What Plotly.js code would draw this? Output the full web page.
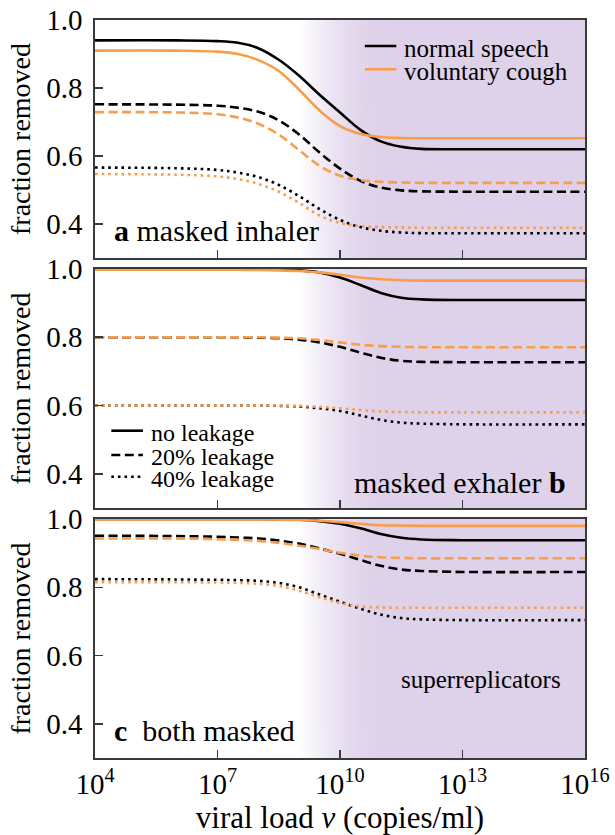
<!DOCTYPE html>
<html>
<head>
<meta charset="utf-8">
<script src="https://cdn.plot.ly/plotly-3.0.1.min.js"></script>
<style>html,body{margin:0;padding:0;background:#fff;}#chart{width:615px;height:835px;}</style>
</head>
<body>
<div id="chart"></div>
<script>
// viral load sample points (copies/ml)
const viralLoad = [1e4, 1e6, 1e7, 3.162e7, 1e8, 3.162e8, 1e9, 3.162e9, 1e10, 3.162e10, 1e11, 3.162e11, 1e12, 1e13, 1e16];

// panel a: masked inhaler
const a_speech_0  = [0.940,0.940,0.938,0.933,0.917,0.883,0.836,0.780,0.728,0.677,0.643,0.627,0.621,0.620,0.620];
const a_speech_20 = [0.752,0.751,0.748,0.742,0.730,0.705,0.663,0.610,0.563,0.527,0.507,0.499,0.496,0.495,0.495];
const a_speech_40 = [0.566,0.564,0.559,0.551,0.538,0.515,0.482,0.444,0.412,0.391,0.380,0.375,0.373,0.373,0.373];
const a_cough_0   = [0.910,0.910,0.907,0.900,0.882,0.850,0.795,0.734,0.688,0.665,0.656,0.653,0.652,0.652,0.652];
const a_cough_20  = [0.729,0.728,0.723,0.713,0.695,0.663,0.617,0.571,0.542,0.529,0.524,0.522,0.521,0.521,0.521];
const a_cough_40  = [0.547,0.545,0.540,0.532,0.518,0.495,0.462,0.425,0.403,0.394,0.391,0.390,0.389,0.389,0.389];

// panel b: masked exhaler
const b_speech_0  = [1.000,1.000,1.000,1.000,1.000,0.999,0.996,0.990,0.975,0.953,0.930,0.916,0.911,0.909,0.909];
const b_speech_20 = [0.800,0.800,0.800,0.800,0.799,0.797,0.793,0.785,0.772,0.755,0.740,0.731,0.728,0.727,0.727];
const b_speech_40 = [0.600,0.600,0.600,0.600,0.600,0.599,0.597,0.592,0.584,0.571,0.558,0.550,0.547,0.545,0.545];
const b_cough_0   = [0.998,0.998,0.998,0.998,0.997,0.996,0.994,0.990,0.983,0.975,0.970,0.967,0.966,0.966,0.966];
const b_cough_20  = [0.800,0.800,0.800,0.800,0.800,0.799,0.797,0.792,0.785,0.778,0.774,0.772,0.771,0.771,0.771];
const b_cough_40  = [0.600,0.600,0.600,0.600,0.600,0.600,0.599,0.596,0.592,0.587,0.583,0.581,0.580,0.580,0.580];

// panel c: both masked
const c_speech_0  = [1.000,1.000,1.000,1.000,1.000,0.999,0.998,0.994,0.986,0.973,0.956,0.945,0.940,0.938,0.938];
const c_speech_20 = [0.951,0.950,0.948,0.946,0.943,0.937,0.928,0.914,0.898,0.880,0.863,0.852,0.848,0.845,0.845];
const c_speech_40 = [0.824,0.823,0.822,0.821,0.819,0.813,0.800,0.779,0.758,0.737,0.720,0.710,0.706,0.704,0.704];
const c_cough_0   = [0.999,0.999,0.999,0.999,0.999,0.998,0.997,0.995,0.991,0.986,0.982,0.981,0.980,0.980,0.980];
const c_cough_20  = [0.943,0.943,0.941,0.939,0.936,0.930,0.922,0.912,0.901,0.893,0.888,0.886,0.885,0.885,0.885];
const c_cough_40  = [0.815,0.815,0.814,0.813,0.810,0.804,0.790,0.771,0.754,0.744,0.741,0.740,0.740,0.740,0.740];

const xTickVals = [1e4, 1e7, 1e10, 1e13, 1e16];
const xTickText = ['10<sup>4</sup>', '10<sup>7</sup>', '10<sup>10</sup>', '10<sup>13</sup>', '10<sup>16</sup>'];
const yTickVals = [0.4, 0.6, 0.8, 1.0];
const yTickText = ['0.4', '0.6', '0.8', '1.0'];

const panelLabels = ['<b>a</b> masked inhaler', 'masked exhaler <b>b</b>', '<b>c</b>  both masked'];
const speechLabels = ['normal speech', 'voluntary cough'];
const leakLabels = ['no leakage', '20% leakage', '40% leakage'];

const BLACK = '#000000';
const ORANGE = '#f99d4a';
const FONT = 'Liberation Serif, DejaVu Serif, serif';
const DASHES = ['solid', '9px,4.5px', '2.6px,4px'];

const panels = [
  {ax: '', speech: [a_speech_0, a_speech_20, a_speech_40], cough: [a_cough_0, a_cough_20, a_cough_40]},
  {ax: '2', speech: [b_speech_0, b_speech_20, b_speech_40], cough: [b_cough_0, b_cough_20, b_cough_40]},
  {ax: '3', speech: [c_speech_0, c_speech_20, c_speech_40], cough: [c_cough_0, c_cough_20, c_cough_40]}
];

const traces = [];
panels.forEach(p => {
  [['speech', BLACK], ['cough', ORANGE]].forEach(([key, col]) => {
    p[key].forEach((ys, i) => {
      traces.push({
        x: viralLoad, y: ys, type: 'scatter', mode: 'lines',
        xaxis: 'x' + p.ax, yaxis: 'y' + p.ax,
        line: {color: col, width: 2.6, dash: DASHES[i], shape: 'spline', smoothing: 1},
        showlegend: false, hoverinfo: 'skip'
      });
    });
  });
});

// plot area geometry (paper coords)
const domains = [[0.6775, 1.0], [0.3388, 0.6626], [0.0, 0.3238]];

function gradientURL() {
  const c = document.createElement('canvas');
  c.width = 1000; c.height = 4;
  const g = c.getContext('2d');
  const grd = g.createLinearGradient(0, 0, 1000, 0);
  const col = a => 'rgba(222,209,234,' + a + ')';
  grd.addColorStop(0, col(0));
  grd.addColorStop(0.415, col(0));
  grd.addColorStop(0.45, col(0.3));
  grd.addColorStop(0.49, col(0.62));
  grd.addColorStop(0.53, col(0.85));
  grd.addColorStop(0.58, col(1));
  grd.addColorStop(1, col(1));
  g.fillStyle = '#ffffff';
  g.fillRect(0, 0, 1000, 4);
  g.fillStyle = grd;
  g.fillRect(0, 0, 1000, 4);
  return c.toDataURL('image/png');
}
const gURL = gradientURL();

const axLine = {showline: true, mirror: true, linecolor: '#3a3a3a', linewidth: 1.6,
  ticks: 'inside', ticklen: 8, tickwidth: 1.6, tickcolor: '#3a3a3a',
  showgrid: false, zeroline: false};

const layout = {
  width: 615, height: 835,
  margin: {l: 95.4, r: 30, t: 20, b: 77},
  paper_bgcolor: '#ffffff', plot_bgcolor: 'rgba(0,0,0,0)',
  font: {family: FONT, color: '#000', size: 26},
  showlegend: false,
  images: domains.map(d => ({source: gURL, xref: 'paper', yref: 'paper', x: 0, y: d[1],
    sizex: 1, sizey: d[1] - d[0], sizing: 'stretch', xanchor: 'left', yanchor: 'top', layer: 'below'})),
  annotations: [],
  shapes: []
};

['', '2', '3'].forEach((ax, i) => {
  layout['xaxis' + ax] = Object.assign({}, axLine, {
    type: 'log', range: [4, 16], domain: [0, 1], anchor: 'y' + ax,
    tickvals: xTickVals, ticktext: xTickText,
    showticklabels: i === 2, tickfont: {size: 29, family: FONT},
    matches: i ? 'x' : undefined
  });
  layout['yaxis' + ax] = Object.assign({}, axLine, {
    range: [0.3, 1.0], domain: domains[i], anchor: 'x' + ax,
    tickvals: yTickVals, ticktext: yTickText, tickfont: {size: 29, family: FONT},
    ticklabelstandoff: 5,
    title: {text: 'fraction removed', font: {size: 28, family: FONT}, standoff: 7}
  });
});
layout.xaxis3.title = {text: 'viral load <i>v</i> (copies/ml)', font: {size: 31, family: FONT}, standoff: 6};

const px2x = px => (px - 95.4) / 489.6;
const py2y = py => (758 - py) / 738;

// panel labels
layout.annotations.push({text: panelLabels[0], xref: 'paper', yref: 'paper', x: px2x(112), y: py2y(231),
  xanchor: 'left', yanchor: 'middle', showarrow: false, font: {size: 30, family: FONT}});
layout.annotations.push({text: panelLabels[1], xref: 'paper', yref: 'paper', x: px2x(568), y: py2y(482),
  xanchor: 'right', yanchor: 'middle', showarrow: false, font: {size: 30, family: FONT}});
layout.annotations.push({text: panelLabels[2], xref: 'paper', yref: 'paper', x: px2x(112), y: py2y(730),
  xanchor: 'left', yanchor: 'middle', showarrow: false, font: {size: 30, family: FONT}});
layout.annotations.push({text: 'superreplicators', xref: 'paper', yref: 'paper', x: px2x(481), y: py2y(679),
  xanchor: 'center', yanchor: 'middle', showarrow: false, font: {size: 25, family: FONT}});

// legend 1 (panel a)
[[BLACK, 46, 48.5], [ORANGE, 69.3, 71.5]].forEach(([col, py, ty], i) => {
  layout.shapes.push({type: 'line', xref: 'paper', yref: 'paper', x0: px2x(365), x1: px2x(396.5),
    y0: py2y(py), y1: py2y(py), line: {color: col, width: 2.6}});
  layout.annotations.push({text: speechLabels[i], xref: 'paper', yref: 'paper', x: px2x(402), y: py2y(ty),
    xanchor: 'left', yanchor: 'middle', showarrow: false, font: {size: 25, family: FONT}});
});
// legend 2 (panel b)
[[430.7, 432.5], [455, 456.5], [476.7, 478.5]].forEach(([py, ty], i) => {
  layout.shapes.push({type: 'line', xref: 'paper', yref: 'paper', x0: px2x(111.7), x1: px2x(143.3),
    y0: py2y(py), y1: py2y(py), line: {color: BLACK, width: 2.6, dash: DASHES[i]}});
  layout.annotations.push({text: leakLabels[i], xref: 'paper', yref: 'paper', x: px2x(149), y: py2y(ty),
    xanchor: 'left', yanchor: 'middle', showarrow: false, font: {size: 24, family: FONT}});
});

Plotly.newPlot('chart', traces, layout, {staticPlot: true, displayModeBar: false});
</script>
</body>
</html>
